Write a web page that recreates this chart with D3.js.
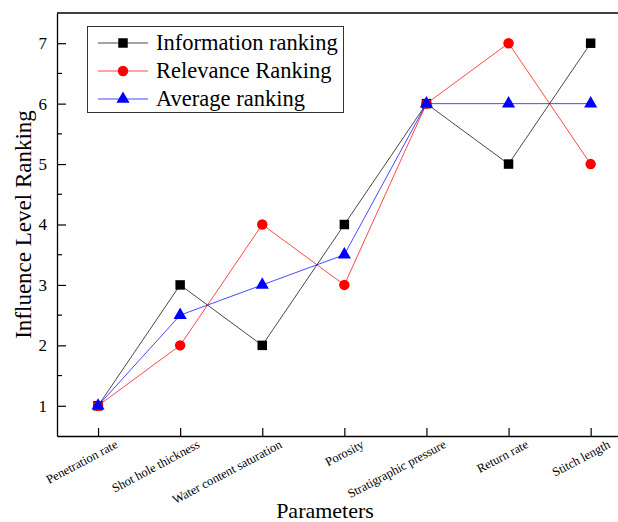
<!DOCTYPE html>
<html>
<head>
<meta charset="utf-8">
<script src="https://cdn.jsdelivr.net/npm/d3@7/dist/d3.min.js"></script>
<style>
  html, body { margin: 0; padding: 0; background: #fff; }
  svg { display: block; }
  text { font-family: "Liberation Serif", "Times New Roman", serif; fill: #000; }
</style>
</head>
<body>
<svg id="chart" width="618" height="522"></svg>
<script>
// Parameters compared by three ranking methods
const categories = [
  "Penetration rate",
  "Shot hole thickness",
  "Water content saturation",
  "Porosity",
  "Stratigraphic pressure",
  "Return rate",
  "Stitch length"
];
const informationRanking = [1, 3, 2, 4, 6, 5, 7];
const relevanceRanking   = [1, 2, 4, 3, 6, 7, 5];
const averageRanking     = [1, 2.5, 3, 3.5, 6, 6, 6];
const yTicks = [1, 2, 3, 4, 5, 6, 7];
const yMinorTicks = [1.5, 2.5, 3.5, 4.5, 5.5, 6.5];

const series = [
  { name: "Information ranking", values: informationRanking, color: "#000000", symbol: d3.symbolSquare,   size: 90 },
  { name: "Relevance Ranking",   values: relevanceRanking,   color: "#ff0000", symbol: d3.symbolCircle,   size: 85 },
  { name: "Average ranking",     values: averageRanking,     color: "#0000ff", symbol: d3.symbolTriangle, size: 75 }
];

const svg = d3.select("#chart");
const plotLeft = 57, plotTop = 13, plotBottom = 436, step = 82.1;
const plotRight = plotLeft + step * categories.length;

const x = d3.scalePoint().domain(categories).range([plotLeft, plotRight]).padding(0.5);
const y = d3.scaleLinear().domain([0.5, 7.5]).range([plotBottom, plotTop]);

// Frame: top line and axes
svg.append("line")
  .attr("x1", plotLeft).attr("x2", plotRight).attr("y1", plotTop).attr("y2", plotTop)
  .attr("stroke", "#000").attr("stroke-width", 1.3);

// Y axis with inward ticks
const yAxis = svg.append("g").attr("transform", `translate(${plotLeft},0)`)
  .call(d3.axisLeft(y).tickValues(yTicks).tickSizeInner(-9).tickSizeOuter(0).tickPadding(10).tickFormat(d3.format("d")));
yAxis.select(".domain").attr("stroke-width", 1.3);
yAxis.selectAll(".tick line").attr("stroke-width", 1.2);
yAxis.selectAll("text").attr("font-size", 17).attr("font-family", "Liberation Serif, serif");

svg.append("g").selectAll("line").data(yMinorTicks).join("line")
  .attr("x1", plotLeft).attr("x2", plotLeft + 5)
  .attr("y1", d => y(d)).attr("y2", d => y(d))
  .attr("stroke", "#000").attr("stroke-width", 1.2);

// X axis with inward ticks and slanted labels
const xAxis = svg.append("g").attr("transform", `translate(0,${plotBottom})`)
  .call(d3.axisBottom(x).tickSizeInner(-8).tickSizeOuter(0));
xAxis.select(".domain").attr("stroke-width", 1.3);
xAxis.selectAll(".tick line").attr("stroke-width", 1.2);
xAxis.selectAll(".tick text")
  .attr("font-size", 12.5)
  .attr("font-family", "Liberation Serif, serif")
  .attr("text-anchor", "end")
  .attr("dy", null)
  .attr("y", 0)
  .attr("transform", "translate(20,11) rotate(-28)");

// Axis titles
svg.append("text")
  .attr("transform", `translate(31,${(plotTop + plotBottom) / 2}) rotate(-90)`)
  .attr("text-anchor", "middle")
  .attr("font-size", 23)
  .text("Influence Level Ranking");

svg.append("text")
  .attr("x", 325).attr("y", 518)
  .attr("text-anchor", "middle")
  .attr("font-size", 22)
  .text("Parameters");

// Series lines and markers
const line = d3.line().x((d, i) => x(categories[i])).y(d => y(d));

series.forEach(s => {
  const g = svg.append("g");
  g.append("path")
    .attr("d", line(s.values))
    .attr("fill", "none")
    .attr("stroke", s.color)
    .attr("stroke-width", 0.9)
    .attr("stroke-opacity", 0.8);
  g.selectAll("path.marker").data(s.values).join("path")
    .attr("class", "marker")
    .attr("transform", (d, i) => `translate(${x(categories[i])},${y(d)})`)
    .attr("d", d3.symbol().type(s.symbol).size(s.size))
    .attr("fill", s.color);
});

// Legend
const legend = svg.append("g");
legend.append("rect")
  .attr("x", 87.5).attr("y", 26.5).attr("width", 256).attr("height", 86)
  .attr("fill", "#fff").attr("stroke", "#333").attr("stroke-width", 1);

series.forEach((s, i) => {
  const cy = 43 + i * 28;
  legend.append("line")
    .attr("x1", 98).attr("x2", 148).attr("y1", cy).attr("y2", cy)
    .attr("stroke", s.color).attr("stroke-width", 0.9).attr("stroke-opacity", 0.8);
  legend.append("path")
    .attr("transform", `translate(123,${cy})`)
    .attr("d", d3.symbol().type(s.symbol).size(s.size))
    .attr("fill", s.color);
  legend.append("text")
    .attr("x", 156).attr("y", cy + 7)
    .attr("font-size", 22.5)
    .text(s.name);
});
</script>
</body>
</html>
